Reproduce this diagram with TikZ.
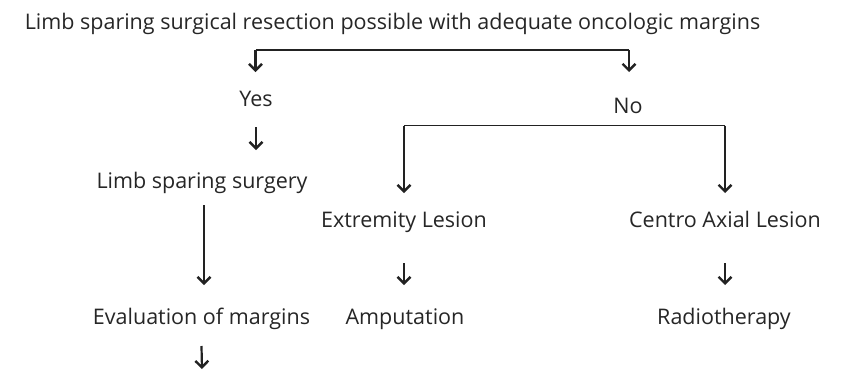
\documentclass[tikz,border=0pt]{standalone}
\usepackage{fontspec}
\setmainfont{Open Sans}
\usetikzlibrary{arrows.meta,calc}
\definecolor{txt}{HTML}{262626}
\definecolor{ln}{HTML}{222222}
\begin{document}
\begin{tikzpicture}[x=1pt,y=-1pt,
  lbl/.style={anchor=base, inner sep=0pt, text=txt, font=\fontsize{21.5}{25}\selectfont},
  conn/.style={draw=ln, line width=2.2pt, -{Straight Barb[length=6.5pt,width=13pt,line width=2.4pt]}},
  bar/.style={draw=ln, line width=1.8pt}]
\useasboundingbox[fill=white] (0,0) rectangle (844,370);

\node[lbl] (title) at (392.5,29) {Limb sparing surgical resection possible with adequate oncologic margins};
\node[lbl] (yes) at (256,106) {Yes};
\node[lbl] (no) at (628,113) {No};
\node[lbl] (lss) at (202,188) {Limb sparing surgery};
\node[lbl] (eval) at (201.5,324) {Evaluation of margins};
\node[lbl] (ext) at (404,227) {Extremity Lesion};
\node[lbl] (cal) at (725,227) {Centro Axial Lesion};
\node[lbl] (amp) at (405,324) {Amputation};
\node[lbl] (rad) at (724,324) {Radiotherapy};

% top bracket
\coordinate (tl) at (255.5,50);
\coordinate (tr) at (629,50);
\draw[bar] (tl) -- (tr);
\draw[conn] (tl) -- (tl |- 0,72);
\draw[conn] (tr) -- (tr |- 0,72);

% yes branch
\draw[conn] ([yshift=-21pt]yes.base) -- ([yshift=38pt]yes.base |- lss.base);
\draw[conn] ([xshift=2pt,yshift=-17pt]lss.base) -- ([xshift=2pt,yshift=39pt]lss.base |- eval.base);
\coordinate (evend) at (202,369);
\draw[conn] ([yshift=-22pt]eval.base) -- (evend);

% no bracket
\coordinate (bl) at (404,125.5);
\coordinate (br) at (725,125.5);
\draw[bar] (bl) -- (br);
\draw[conn] (bl) -- (bl |- 0,193);
\draw[conn] (br) -- (br |- 0,193);

% lower arrows
\draw[conn] ([yshift=-36pt]ext.base) -- ([yshift=39pt]ext.base |- amp.base);
\draw[conn] ([yshift=-36pt]cal.base) -- ([yshift=39pt]cal.base |- rad.base);
\end{tikzpicture}
\end{document}
